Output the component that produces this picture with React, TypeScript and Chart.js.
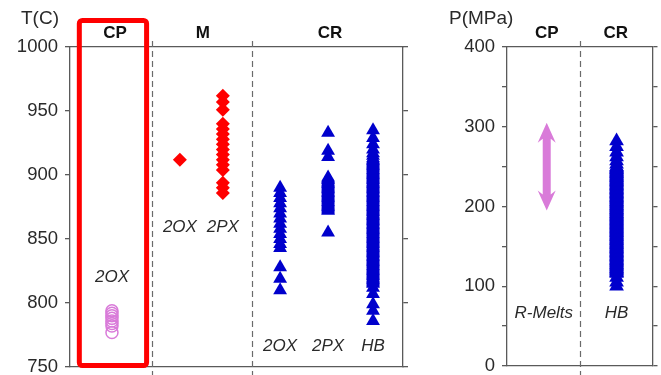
import React, { useEffect, useRef } from 'react';
import { Chart, registerables } from 'chart.js';

Chart.register(...registerables);

// ---------- Left panel: temperature T(C) ----------
const tMin = 750;
const tMax = 1000;
const tStep = 50;
const tGroups = ['CP', 'M', 'CR'];
const tGroupX = [1.35, 3.99, 7.81];
const tSeparators = [2.46, 5.47];

const cp2oxX = 1.26;
const cp2oxT = [794, 792, 790, 788, 786, 784, 782, 777];
const m2oxX = 3.3;
const m2oxT = [912];
const m2pxX = 4.59;
const m2pxT = [962, 957, 951, 940, 936, 932, 928, 924, 920, 916, 912, 908, 904, 894, 890, 886];
const cr2oxX = 6.31;
const cr2oxT = [890, 886, 882, 878, 874, 870, 866, 862, 858, 854, 850, 846, 843, 828, 819, 810];
const cr2pxX = 7.75;
const cr2pxT = [933, 919, 914, 898, 897, 896, 895, 894, 893, 892, 891, 890, 889, 888, 887, 886, 885, 884, 883, 882, 881, 880, 879, 878, 877, 876, 875, 874, 873, 872, 855];
const crHbX = 9.1;
const crHbT = [
  935, 929, 924, 920, 917, 915, 913, 912, 911, 910, 909, 908, 907, 906, 905, 904, 903, 902, 901, 900,
  899, 898, 897, 896, 895, 894, 893, 892, 891, 890, 889, 888, 887, 886, 885, 884, 883, 882, 881, 880,
  879, 878, 877, 876, 875, 874, 873, 872, 871, 870, 869, 868, 867, 866, 865, 864, 863, 862, 861, 860,
  859, 858, 857, 856, 855, 854, 853, 852, 851, 850, 849, 848, 847, 846, 845, 844, 843, 842, 841, 840,
  839, 838, 837, 836, 835, 834, 833, 832, 831, 830, 829, 828, 827, 826, 825, 824, 823, 822, 821, 820,
  819, 818, 817, 816, 815, 812, 807, 799, 794, 786,
];

const tLabelText = ['2OX', '2OX', '2PX', '2OX', '2PX', 'HB'];
const tLabelX = [1.26, 3.3, 4.59, 6.31, 7.75, 9.1];
const tLabelY = [820, 859, 859, 766, 766, 766];

// ---------- Right panel: pressure P(MPa) ----------
const pMin = 0;
const pMax = 400;
const pStep = 50;
const pGroups = ['CP', 'CR'];
const pGroupX = [2.73, 7.47];
const pSeparators = [5.0];

const rMeltsX = 2.73;
const rMeltsRange = [195, 305];
const pHbX = 7.53;
const pHbP = [
  282, 275, 268, 262, 257, 253, 250, 249, 248, 247, 246, 245, 244, 243, 242, 241, 240, 239, 238, 237,
  236, 235, 234, 233, 232, 231, 230, 229, 228, 227, 226, 225, 224, 223, 222, 221, 220, 219, 218, 217,
  216, 215, 214, 213, 212, 211, 210, 209, 208, 207, 206, 205, 204, 203, 202, 201, 200, 199, 198, 197,
  196, 195, 194, 193, 192, 191, 190, 189, 188, 187, 186, 185, 184, 183, 182, 181, 180, 179, 178, 177,
  176, 175, 174, 173, 172, 171, 170, 169, 168, 167, 166, 165, 164, 163, 162, 161, 160, 159, 158, 157,
  156, 155, 154, 153, 152, 151, 150, 149, 148, 147, 146, 145, 144, 143, 142, 141, 140, 139, 138, 137,
  136, 135, 134, 133, 132, 131, 130, 129, 128, 127, 126, 125, 124, 123, 122, 121, 120, 119, 118, 117,
  116, 111, 105, 100,
];

const pLabelText = ['R-Melts', 'HB'];
const pLabelX = [2.53, 7.53];
const pLabelY = [66, 66];

// ---------- styles ----------
const FONT = "'Liberation Sans', Arial, Helvetica, sans-serif";
const AXIS = '#5a5a5a';
const TEXT = '#2a2a2a';
const RED = '#ff0000';
const BLUE = '#0000cc';
const VIOLET = '#d97bd9';

const pts = (x: number, ys: number[]) => ys.map((y) => ({ x, y }));

function axisScales(min: number, max: number, step: number, leftW: number, rightW: number, labelEvery: number) {
  const hAxis = (position: string) => ({
    type: 'linear',
    position,
    min: 0,
    max: 10,
    ticks: { display: false },
    grid: { display: false },
    border: { display: true, color: AXIS, width: 1.3 },
    afterFit: (s: any) => {
      s.height = 0;
      s.paddingLeft = 0;
      s.paddingRight = 0;
    },
  });
  const grid = { drawOnChartArea: false, drawTicks: true, tickLength: 5, color: AXIS, lineWidth: 1.3 };
  return {
    x: hAxis('bottom'),
    xTop: hAxis('top'),
    y: {
      type: 'linear',
      position: 'left',
      min,
      max,
      ticks: {
        stepSize: step,
        padding: 7,
        color: TEXT,
        font: { family: FONT, size: 18.5 },
        callback: (v: number) => (v % labelEvery === 0 ? String(v) : ''),
      },
      grid,
      border: { display: true, color: AXIS, width: 1.3 },
      afterFit: (s: any) => {
        s.width = leftW;
        s.paddingTop = 0;
        s.paddingBottom = 0;
      },
    },
    yRight: {
      type: 'linear',
      position: 'right',
      min,
      max,
      ticks: { display: false, stepSize: step },
      grid,
      border: { display: true, color: AXIS, width: 1.3 },
      afterFit: (s: any) => {
        s.width = rightW;
        s.paddingTop = 0;
        s.paddingBottom = 0;
      },
    },
  };
}

interface OverlayCfg {
  separators: number[];
  headers: string[];
  headerX: number[];
  labelText: string[];
  labelX: number[];
  labelY: number[];
  title: string;
  titleX: number;
  highlight?: boolean;
  arrow?: boolean;
}

function overlay(cfg: OverlayCfg) {
  return {
    id: 'overlay',
    afterDraw(chart: any) {
      const { ctx, chartArea, scales } = chart;
      const xs = scales.x;
      const ys = scales.y;
      ctx.save();
      // dashed separators
      ctx.strokeStyle = '#6a6a6a';
      ctx.lineWidth = 1.2;
      ctx.setLineDash([6, 4]);
      cfg.separators.forEach((v) => {
        const px = Math.round(xs.getPixelForValue(v)) + 0.5;
        ctx.beginPath();
        ctx.moveTo(px, chartArea.top - 6);
        ctx.lineTo(px, chart.height);
        ctx.stroke();
      });
      ctx.setLineDash([]);

      // arrow (R-Melts range)
      if (cfg.arrow) {
        const ax = xs.getPixelForValue(rMeltsX);
        const yTop = ys.getPixelForValue(rMeltsRange[1]);
        const yBot = ys.getPixelForValue(rMeltsRange[0]);
        const shaft = 4;
        const head = 9;
        const headLen = 20;
        ctx.fillStyle = VIOLET;
        ctx.beginPath();
        ctx.moveTo(ax, yTop);
        ctx.lineTo(ax + head, yTop + headLen);
        ctx.lineTo(ax + shaft, yTop + headLen - 4);
        ctx.lineTo(ax + shaft, yBot - headLen + 4);
        ctx.lineTo(ax + head, yBot - headLen);
        ctx.lineTo(ax, yBot);
        ctx.lineTo(ax - head, yBot - headLen);
        ctx.lineTo(ax - shaft, yBot - headLen + 4);
        ctx.lineTo(ax - shaft, yTop + headLen - 4);
        ctx.lineTo(ax - head, yTop + headLen);
        ctx.closePath();
        ctx.fill();
      }

      // group headers
      ctx.fillStyle = '#111';
      ctx.textAlign = 'center';
      ctx.textBaseline = 'middle';
      ctx.font = `bold 17px ${FONT}`;
      cfg.headers.forEach((h, i) => {
        ctx.fillText(h, xs.getPixelForValue(cfg.headerX[i]), chartArea.top - 14);
      });

      // sub labels
      ctx.fillStyle = TEXT;
      ctx.font = `italic 17px ${FONT}`;
      cfg.labelText.forEach((t, i) => {
        ctx.fillText(t, xs.getPixelForValue(cfg.labelX[i]), ys.getPixelForValue(cfg.labelY[i]));
      });

      // axis title
      ctx.textAlign = 'left';
      ctx.font = `19px ${FONT}`;
      ctx.fillText(cfg.title, cfg.titleX, 19);

      // red highlight box
      if (cfg.highlight) {
        const x0 = xs.getPixelForValue(0.28);
        const x1 = xs.getPixelForValue(2.3);
        const y0 = chartArea.top - 26.5;
        const y1 = chartArea.bottom - 1.5;
        ctx.strokeStyle = RED;
        ctx.lineWidth = 5;
        ctx.beginPath();
        if (ctx.roundRect) ctx.roundRect(x0, y0, x1 - x0, y1 - y0, 3);
        else ctx.rect(x0, y0, x1 - x0, y1 - y0);
        ctx.stroke();
      }
      ctx.restore();
    },
  };
}

export default function App() {
  const leftRef = useRef<HTMLCanvasElement>(null);
  const rightRef = useRef<HTMLCanvasElement>(null);

  useEffect(() => {
    const common = {
      animation: false,
      responsive: false,
      maintainAspectRatio: false,
      plugins: { legend: { display: false }, tooltip: { enabled: false } },
      events: [],
    };

    const left = new Chart(leftRef.current as HTMLCanvasElement, {
      type: 'scatter',
      data: {
        datasets: [
          {
            data: pts(cp2oxX, cp2oxT),
            pointStyle: 'circle',
            pointRadius: 6,
            borderWidth: 1.5,
            borderColor: VIOLET,
            backgroundColor: 'rgba(0,0,0,0)',
          },
          {
            data: pts(m2oxX, m2oxT),
            pointStyle: 'rectRot',
            pointRadius: 7,
            borderWidth: 0,
            borderColor: RED,
            backgroundColor: RED,
          },
          {
            data: pts(m2pxX, m2pxT),
            pointStyle: 'rectRot',
            pointRadius: 7,
            borderWidth: 0,
            borderColor: RED,
            backgroundColor: RED,
          },
          {
            data: pts(cr2oxX, cr2oxT),
            pointStyle: 'triangle',
            pointRadius: 8,
            borderWidth: 0,
            borderColor: BLUE,
            backgroundColor: BLUE,
          },
          {
            data: pts(cr2pxX, cr2pxT),
            pointStyle: 'triangle',
            pointRadius: 8,
            borderWidth: 0,
            borderColor: BLUE,
            backgroundColor: BLUE,
          },
          {
            data: pts(crHbX, crHbT),
            pointStyle: 'triangle',
            pointRadius: 8,
            borderWidth: 0,
            borderColor: BLUE,
            backgroundColor: BLUE,
          },
        ],
      },
      options: {
        ...common,
        layout: { padding: { left: 0, right: 0, top: 47, bottom: 8 } },
        scales: axisScales(tMin, tMax, tStep, 70, 17, 50) as any,
      } as any,
      plugins: [
        overlay({
          separators: tSeparators,
          headers: tGroups,
          headerX: tGroupX,
          labelText: tLabelText,
          labelX: tLabelX,
          labelY: tLabelY,
          title: 'T(C)',
          titleX: 21,
          highlight: true,
        }),
      ],
    });

    const right = new Chart(rightRef.current as HTMLCanvasElement, {
      type: 'scatter',
      data: {
        datasets: [
          {
            data: pts(pHbX, pHbP),
            pointStyle: 'triangle',
            pointRadius: 8.5,
            borderWidth: 0,
            borderColor: BLUE,
            backgroundColor: BLUE,
          },
        ],
      },
      options: {
        ...common,
        layout: { padding: { left: 0, right: 0, top: 47, bottom: 9 } },
        scales: axisScales(pMin, pMax, pStep, 87, 4, 100) as any,
      } as any,
      plugins: [
        overlay({
          separators: pSeparators,
          headers: pGroups,
          headerX: pGroupX,
          labelText: pLabelText,
          labelX: pLabelX,
          labelY: pLabelY,
          title: 'P(MPa)',
          titleX: 29,
          arrow: true,
        }),
      ],
    });

    return () => {
      left.destroy();
      right.destroy();
    };
  }, []);

  return (
    <div style={{ position: 'fixed', left: 0, top: 0, width: 661, height: 375, background: '#fff', overflow: 'hidden' }}>
      <canvas ref={leftRef} width={420} height={375} style={{ position: 'absolute', left: 0, top: 0, width: 420, height: 375 }} />
      <canvas ref={rightRef} width={241} height={375} style={{ position: 'absolute', left: 420, top: 0, width: 241, height: 375 }} />
    </div>
  );
}
